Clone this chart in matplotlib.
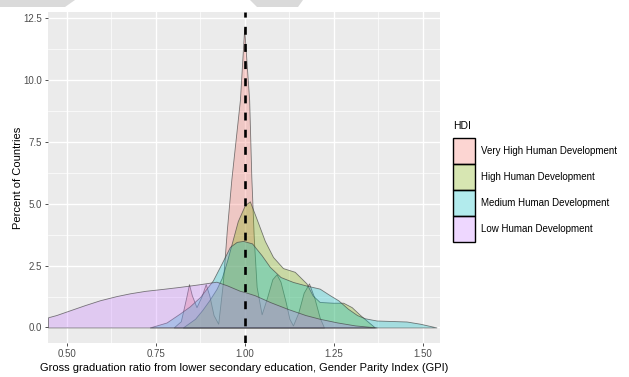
import matplotlib
matplotlib.use("Agg")
import matplotlib.pyplot as plt
from matplotlib.patches import Patch, Polygon
from matplotlib.colors import to_rgba
from matplotlib.ticker import MultipleLocator

plt.rcParams['font.family'] = ['Liberation Sans', 'DejaVu Sans']

# density curves per HDI group (GPI value, percent of countries)
very_high_x = [0.80, 0.82, 0.835, 0.843, 0.851, 0.864, 0.878, 0.89, 0.90, 0.912, 0.925, 0.938, 0.949,
               0.962, 0.986, 0.998, 1.012, 1.018, 1.025, 1.033, 1.047, 1.062, 1.077, 1.089, 1.10,
               1.115, 1.125, 1.135, 1.15, 1.165, 1.18, 1.195, 1.21, 1.222]
very_high_y = [0.0, 0.25, 1.2, 1.75, 1.3, 0.82, 1.25, 1.75, 1.3, 0.5, 0.15, 1.8, 3.9,
               6.0, 9.2, 12.1, 9.2, 6.1, 3.6, 1.64, 0.53, 1.2, 1.95, 2.15, 1.85,
               1.0, 0.35, 0.08, 0.6, 1.4, 1.78, 1.2, 0.4, 0.0]

high_x = [0.826, 0.86, 0.88, 0.90, 0.92, 0.935, 0.95, 0.965, 0.98, 1.0, 1.014, 1.03, 1.056,
          1.079, 1.107, 1.14, 1.159, 1.173, 1.19, 1.21, 1.247, 1.276, 1.30, 1.323, 1.34, 1.365]
high_y = [0.0, 0.35, 0.7, 1.1, 1.55, 2.0, 2.7, 3.5, 4.3, 4.95, 5.1, 4.5, 3.5,
          2.85, 2.4, 2.25, 1.98, 1.78, 1.3, 1.03, 1.0, 1.0, 0.82, 0.51, 0.3, 0.0]

medium_x = [0.733, 0.78, 0.817, 0.845, 0.874, 0.91, 0.935, 0.958, 0.977, 0.995, 1.02, 1.047,
            1.07, 1.10, 1.135, 1.171, 1.21, 1.239, 1.262, 1.29, 1.315, 1.337, 1.37, 1.454,
            1.492, 1.538]
medium_y = [0.0, 0.2, 0.56, 0.85, 1.23, 1.9, 2.6, 3.26, 3.46, 3.5, 3.4, 2.92,
            2.45, 2.04, 1.84, 1.70, 1.57, 1.3, 1.1, 0.75, 0.5, 0.37, 0.28, 0.24,
            0.15, 0.0]

low_x = [0.447, 0.47, 0.508, 0.55, 0.593, 0.64, 0.677, 0.72, 0.77, 0.817, 0.874, 0.92, 0.95,
         0.986, 1.0, 1.028, 1.07, 1.12, 1.17, 1.21, 1.26, 1.31, 1.37]
low_y = [0.41, 0.5, 0.69, 0.9, 1.1, 1.27, 1.38, 1.48, 1.56, 1.64, 1.75, 1.85, 1.7,
         1.48, 1.43, 1.3, 1.03, 0.75, 0.5, 0.35, 0.2, 0.08, 0.0]

groups = ["Very High Human Development", "High Human Development",
          "Medium Human Development", "Low Human Development"]
colors = ["#F8766D", "#7CAE00", "#00BFC4", "#C77CFF"]
curves = [(very_high_x, very_high_y), (high_x, high_y), (medium_x, medium_y), (low_x, low_y)]
ref_gpi = 1.0

fig = plt.figure(figsize=(6.29, 3.77), dpi=100)
ax = fig.add_axes([48 / 629, 1 - 343 / 377, 392 / 629, 331 / 377])
ax.set_facecolor("#EBEBEB")

for (xs, ys), c in zip(curves, colors):
    ax.fill_between(xs, 0, ys, facecolor=to_rgba(c, 0.3), edgecolor=to_rgba("#3A3A3A", 0.65),
                    linewidth=0.6, zorder=2)

ax.axvline(ref_gpi, color="black", linestyle=(0, (3, 3.5)), linewidth=1.9, zorder=3)

ax.set_xlim(0.447, 1.548)
ax.set_ylim(-0.63, 12.76)
ax.xaxis.set_major_locator(MultipleLocator(0.25))
ax.xaxis.set_minor_locator(MultipleLocator(0.125))
ax.yaxis.set_major_locator(MultipleLocator(2.5))
ax.yaxis.set_minor_locator(MultipleLocator(1.25))
ax.xaxis.set_major_formatter(lambda v, p: f"{v:.2f}")
ax.yaxis.set_major_formatter(lambda v, p: f"{v:.1f}")
ax.grid(which="major", color="white", linewidth=1.0, zorder=0)
ax.grid(which="minor", color="white", linewidth=0.5, zorder=0)
ax.set_axisbelow(True)
for s in ax.spines.values():
    s.set_visible(False)
ax.tick_params(which="major", length=2.5, width=0.6, color="#333333",
               labelsize=7, labelcolor="#4D4D4D", pad=2)
ax.tick_params(which="minor", length=0)

ax.set_xlabel("Gross graduation ratio from lower secondary education, Gender Parity Index (GPI)",
              fontsize=8, labelpad=3)
ax.set_ylabel("Percent of Countries", fontsize=8, labelpad=0)

# legend keys: 22 x 26 px boxes stacked with no gap
handles = [Patch(facecolor=to_rgba(c, 0.3), edgecolor="black", linewidth=1.0) for c in colors]
leg = fig.legend(handles, groups, loc="upper left", bbox_to_anchor=(453 / 629, 1 - 121 / 377),
                 frameon=False, title="HDI", alignment="left", fontsize=7, title_fontsize=7.5,
                 handlelength=2.26, handleheight=3.75, labelspacing=0, handletextpad=0.6,
                 borderpad=0, borderaxespad=0)
leg._legend_box.sep = 5

# grey page shapes along the top edge
for pts in ([(0, 0), (75, 0), (65, 7), (0, 7)], [(250, 0), (303, 0), (298, 7), (257, 7)]):
    fig.add_artist(Polygon([(px / 629, 1 - py / 377) for px, py in pts], closed=True,
                           transform=fig.transFigure, facecolor="#DADADA", edgecolor="none"))

fig.savefig("out.png", dpi=100)
